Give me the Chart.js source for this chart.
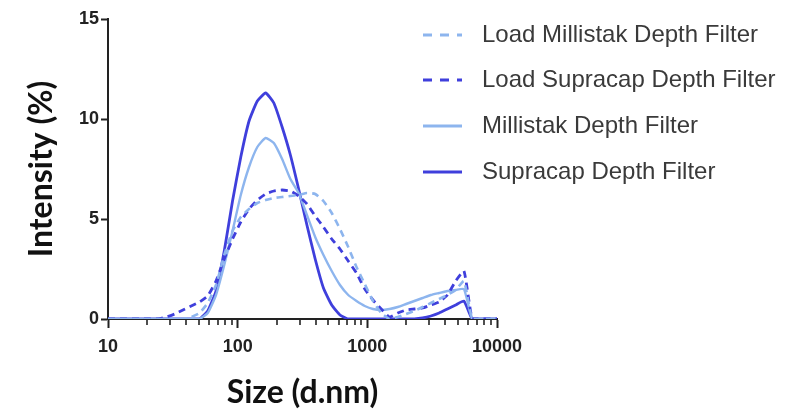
<!DOCTYPE html>
<html>
<head>
<meta charset="utf-8">
<script src="https://cdn.jsdelivr.net/npm/chart.js@4.4.1/dist/chart.umd.min.js"></script>
<style>
  html, body { margin: 0; padding: 0; background: #fff; }
</style>
</head>
<body>
<canvas id="dls" width="812" height="420"></canvas>
<script>
// size bins (d.nm)
sizes = [10, 11.7, 13.54, 15.69, 18.17, 21.04, 24.36, 28.21, 32.67, 37.84, 43.82, 50.75,
  58.77, 68.06, 78.82, 91.28, 105.7, 122.4, 141.8, 164.2, 190.1, 220.2, 255.0, 295.3,
  342.0, 396.1, 458.7, 531.2, 615.1, 712.4, 825.0, 955.4, 1106, 1281, 1484, 1718,
  1990, 2305, 2669, 3091, 3580, 4145, 4801, 5560, 6439, 7456, 8635, 10000];

// intensity (%)
loadMillistak = [0, 0, 0, 0, 0, 0, 0, 0, 0, 0, 0.1, 0.3,
  0.8, 1.7, 3.2, 4.4, 5.1, 5.5, 5.8, 5.95, 6.05, 6.1, 6.15, 6.2,
  6.3, 6.25, 5.9, 5.3, 4.5, 3.6, 2.6, 1.75, 0.9, 0.3, 0, 0.1,
  0.25, 0.4, 0.6, 0.8, 1.0, 1.2, 1.45, 1.9, 0, 0, 0, 0];
loadSupracap = [0, 0, 0, 0, 0, 0, 0, 0.1, 0.25, 0.45, 0.65, 0.85,
  1.15, 1.9, 3.0, 4.0, 4.85, 5.5, 5.95, 6.25, 6.4, 6.45, 6.4, 6.15,
  5.75, 5.15, 4.6, 4.0, 3.5, 2.9, 2.3, 1.5, 0.95, 0.5, 0.1, 0.3,
  0.45, 0.5, 0.55, 0.7, 0.85, 1.2, 1.9, 2.4, 0, 0, 0, 0];
millistak = [0, 0, 0, 0, 0, 0, 0, 0, 0, 0, 0, 0,
  0.3, 1.2, 2.7, 4.4, 6.2, 7.6, 8.6, 9.05, 8.8, 8.0, 7.0, 6.3,
  5.2, 4.1, 3.2, 2.4, 1.7, 1.2, 0.9, 0.65, 0.5, 0.45, 0.5, 0.6,
  0.75, 0.9, 1.05, 1.2, 1.3, 1.4, 1.45, 1.5, 0, 0, 0, 0];
supracap = [0, 0, 0, 0, 0, 0, 0, 0, 0, 0, 0, 0,
  0.4, 1.4, 3.4, 5.9, 8.1, 9.9, 10.9, 11.3, 10.8, 9.6, 8.2, 6.5,
  4.7, 3.0, 1.55, 0.7, 0.2, 0, 0, 0, 0, 0, 0, 0,
  0, 0, 0.05, 0.15, 0.3, 0.5, 0.7, 0.9, 0, 0, 0, 0];

labels = ["Load Millistak Depth Filter", "Load Supracap Depth Filter",
  "Millistak Depth Filter", "Supracap Depth Filter"];

majorTicks = [10, 100, 1000, 10000];
yTicks = [0, 5, 10, 15];

lightBlue = "#8db5ee";
darkBlue = "#3f3fdc";

function pts(vals) {
  return vals.map((v, i) => ({ x: sizes[i], y: v }));
}

// legend drawn on the right, as in the figure
const sideLegend = {
  id: "sideLegend",
  afterDraw(chart) {
    const ctx = chart.ctx;
    const rows = [35, 80, 126, 172];
    ctx.save();
    chart.data.datasets.forEach((ds, i) => {
      const y = rows[i];
      ctx.beginPath();
      ctx.strokeStyle = ds.borderColor;
      ctx.lineWidth = 3;
      ctx.setLineDash(ds.borderDash ? [9, 8] : []);
      ctx.moveTo(423, y);
      ctx.lineTo(462, y);
      ctx.stroke();
      ctx.setLineDash([]);
      ctx.fillStyle = "#3a3a3a";
      ctx.font = "24px 'Liberation Sans', Arial, sans-serif";
      ctx.textBaseline = "middle";
      ctx.textAlign = "left";
      ctx.fillText(ds.label, 482, y);
    });
    ctx.restore();
  },
};

// shorter minor ticks under the x axis
const minorTicks = {
  id: "minorTicks",
  afterDraw(chart) {
    const sx = chart.scales.x;
    const ctx = chart.ctx;
    ctx.save();
    ctx.strokeStyle = "#222";
    ctx.lineWidth = 1.6;
    sx.ticks.forEach((t) => {
      if (majorTicks.includes(t.value)) return;
      const px = Math.round(sx.getPixelForValue(t.value));
      ctx.beginPath();
      ctx.moveTo(px, sx.top);
      ctx.lineTo(px, sx.top + 6);
      ctx.stroke();
    });
    ctx.restore();
  },
};

const ctx = document.getElementById("dls").getContext("2d");
myChart = new Chart(ctx, {
  type: "line",
  data: {
    datasets: [
      { label: labels[0], data: pts(loadMillistak), borderColor: lightBlue, borderWidth: 2.6, borderDash: [7, 5] },
      { label: labels[1], data: pts(loadSupracap), borderColor: darkBlue, borderWidth: 2.8, borderDash: [7, 5] },
      { label: labels[2], data: pts(millistak), borderColor: lightBlue, borderWidth: 2.4 },
      { label: labels[3], data: pts(supracap), borderColor: darkBlue, borderWidth: 2.8 },
    ],
  },
  options: {
    responsive: false,
    animation: false,
    devicePixelRatio: 1,
    layout: { padding: { top: 19, right: 315, bottom: 0, left: 0 } },
    elements: { point: { radius: 0 }, line: { tension: 0.15, fill: false } },
    plugins: { legend: { display: false }, tooltip: { enabled: false } },
    scales: {
      x: {
        type: "logarithmic",
        min: 10,
        max: 10000,
        afterFit(scale) { scale.height = 101; },
        afterBuildTicks(scale) {
          const t = [];
          majorTicks.forEach((m, i) => {
            t.push({ value: m });
            if (i < majorTicks.length - 1) {
              for (let k = 2; k <= 9; k++) t.push({ value: m * k });
            }
          });
          scale.ticks = t;
        },
        grid: {
          drawOnChartArea: false,
          tickLength: 9,
          tickColor: (c) => (c.tick && majorTicks.includes(c.tick.value) ? "#222" : "rgba(0,0,0,0)"),
          tickWidth: 2,
        },
        border: { color: "#222", width: 2 },
        ticks: {
          autoSkip: false,
          maxRotation: 0,
          padding: 8,
          color: "#222",
          font: { family: "'Liberation Sans', Arial", size: 18, weight: "bold" },
          callback: (v) => (majorTicks.includes(v) ? String(v) : ""),
        },
        title: {
          display: true,
          text: "Size (d.nm)",
          color: "#111",
          font: { family: "Lato", size: 32, weight: "bold" },
          padding: { top: 0, bottom: 8 },
        },
      },
      y: {
        min: 0,
        max: 15,
        afterFit(scale) { scale.width = 108; },
        afterBuildTicks(scale) { scale.ticks = yTicks.map((v) => ({ value: v })); },
        grid: { drawOnChartArea: false, tickLength: 7, tickColor: "#222", tickWidth: 2 },
        border: { color: "#222", width: 2 },
        ticks: {
          padding: 2,
          color: "#222",
          font: { family: "'Liberation Sans', Arial", size: 18, weight: "bold" },
        },
        title: {
          display: true,
          text: "Intensity (%)",
          color: "#111",
          font: { family: "Lato", size: 32, weight: "bold" },
          padding: { top: 22, bottom: 0 },
        },
      },
    },
  },
  plugins: [sideLegend, minorTicks],
});
</script>
</body>
</html>
